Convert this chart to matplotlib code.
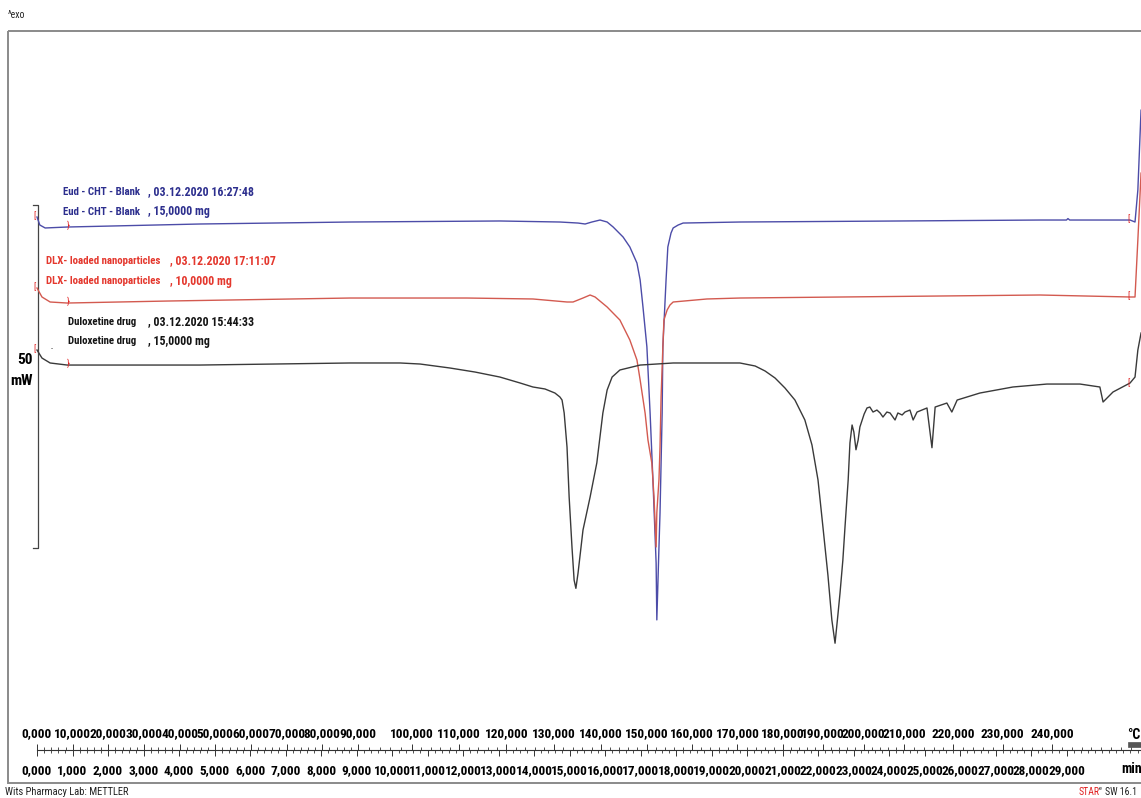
import numpy as np
import matplotlib
matplotlib.use("Agg")
import matplotlib.pyplot as plt
from matplotlib.patches import Rectangle
from matplotlib.ticker import FixedLocator, MultipleLocator, FuncFormatter

NARROW = ["Liberation Sans Narrow", "Roboto Condensed", "DejaVu Sans"]
plt.rcParams["font.family"] = NARROW

BLUE_TXT, BLUE = "#2D2F8E", "#4C4CA8"
RED_TXT, RED = "#E4382E", "#D35A50"
BLACK_TXT, BLACK = "#141414", "#3A3A3A"
FRAME = "#8A8A8A"

# --- runs ---------------------------------------------------------------------
samples = ["Eud - CHT - Blank", "DLX- loaded nanoparticles", "Duloxetine drug"]
run_stamps = ["03.12.2020 16:27:48", "03.12.2020 17:11:07", "03.12.2020 15:44:33"]
masses_mg = [15.0, 10.0, 15.0]
offsets_mw = [47.52, 36.15, 26.82]          # curve stacking in the plot

# heat flow (mW, relative to own baseline) against time (min)
blank_t = [0.00, 0.08, 0.23, 0.85, 4.59, 8.82, 13.04, 14.73, 15.24, 15.44, 15.63, 15.86,
           16.06, 16.23, 16.51, 16.70, 16.90, 16.99, 17.07, 17.18, 17.27, 17.35, 17.44,
           17.46, 17.52, 17.55, 17.61, 17.63, 17.72, 17.77, 17.86, 17.92, 18.06, 18.20,
           19.80, 24.31, 28.25, 29.00, 29.04, 29.09, 30.79, 30.93, 31.01, 31.10]
blank_mw = [0.73, -0.44, -0.87, -0.73, -0.29, 0.00, 0.15, 0.00, -0.15, -0.29, 0.00, 0.29,
            0.00, -0.73, -2.19, -3.64, -5.98, -8.45, -12.4, -18.2, -27.8, -37.6, -49.7,
            -58.0, -47.4, -42.4, -27.8, -18.2, -8.45, -3.64, -1.60, -0.87, -0.44, -0.15,
            0.00, 0.15, 0.29, 0.29, 0.50, 0.29, 0.29, 0.00, 4.66, 16.3]

nano_t = [0.00, 0.14, 0.37, 0.85, 3.66, 8.82, 12.11, 13.97, 14.93, 15.10, 15.38, 15.58,
          15.72, 16.06, 16.42, 16.70, 16.90, 16.99, 17.13, 17.21, 17.32, 17.38, 17.44,
          17.46, 17.52, 17.55, 17.58, 17.63, 17.66, 17.75, 17.83, 17.92, 18.87, 19.80,
          28.25, 30.79, 30.93, 31.01, 31.10]
nano_mw = [1.75, 0.44, -0.29, -0.44, -0.15, 0.29, 0.29, 0.15, -0.29, -0.29, 0.29, 0.73,
           0.44, -1.02, -2.92, -5.83, -8.75, -11.66, -16.5, -20.4, -23.8, -28.7, -36.0,
           -31.0, -26.2, -21.4, -14.1, -6.85, -2.92, -1.46, -0.73, -0.29, 0.15, 0.29,
           0.73, 0.44, 0.44, 8.75, 18.5]

drug_t = [0.00, 0.14, 0.37, 0.85, 4.59, 8.82, 10.23, 10.79, 11.63, 12.34, 13.04, 13.61,
          13.97, 14.31, 14.59, 14.73, 14.79, 14.85, 14.93, 14.99, 15.07, 15.13, 15.18,
          15.24, 15.38, 15.58, 15.77, 15.94, 16.06, 16.20, 16.42, 16.99, 17.92, 19.80,
          20.23, 20.51, 20.79, 21.07, 21.35, 21.63, 21.83, 22.00, 22.14, 22.28, 22.39,
          22.48, 22.56, 22.62, 22.70, 22.76, 22.85, 22.90, 22.96, 23.01, 23.07, 23.13,
          23.18, 23.30, 23.38, 23.46, 23.55, 23.66, 23.75, 23.83, 23.94, 24.03, 24.17,
          24.25, 24.37, 24.45, 24.59, 24.68, 24.79, 25.07, 25.21, 25.30, 25.63, 25.77,
          25.92, 26.56, 27.49, 28.45, 29.38, 29.94, 30.03, 30.31, 30.79, 30.93, 31.01,
          31.10]
drug_mw = [2.04, 0.87, 0.15, -0.15, -0.15, 0.15, 0.15, 0.00, -0.58, -1.17, -1.90, -2.77,
           -3.35, -3.64, -4.23, -4.81, -5.25, -7.14, -12.1, -19.4, -26.7, -31.5, -32.7,
           -30.5, -24.2, -19.4, -14.4, -7.14, -3.79, -1.90, -0.87, -0.15, 0.15, 0.15,
           -0.29, -1.02, -2.04, -3.50, -5.25, -8.16, -11.8, -16.9, -23.8, -30.8, -37.3,
           -40.7, -36.6, -33.4, -28.6, -23.8, -16.9, -11.5, -8.89, -9.91, -12.5, -11.1,
           -9.18, -7.29, -6.41, -6.27, -7.00, -6.71, -7.14, -7.73, -7.00, -7.14, -8.16,
           -7.14, -7.43, -7.00, -6.71, -8.16, -7.00, -6.41, -12.2, -6.27, -5.69, -7.00,
           -5.25, -4.23, -3.35, -2.92, -2.92, -3.35, -5.54, -4.08, -2.77, -1.90, 2.04,
           4.52]

# temperature program for the upper ruler
prog_min = [0.0, 9.04, 10.56, 15.89, 21.01, 24.42, 28.59]
prog_c = [0.0, 90.0, 100.0, 140.0, 180.0, 210.0, 240.0]

scale_bar_mw = 50

# --- page geometry (pixels) ---------------------------------------------------
W, H = 1141, 798
X0, PX_MIN = 37, 35.5          # t = 0 column, pixels per minute
Y0, PX_MW = 548, 6.86          # 0 mW row, pixels per mW
T_END = (W - X0) / PX_MIN

fig = plt.figure(figsize=(W / 100, H / 100), dpi=100)
ax = fig.add_axes([0, 0, 1, 1])
ax.set_xlim(-X0 / PX_MIN, T_END)
ax.set_ylim((Y0 - H) / PX_MW, Y0 / PX_MW)
ax.axis("off")

# page overlay in pixel units for frame and captions
pg = fig.add_axes([0, 0, 1, 1], facecolor="none")
pg.set_xlim(0, W); pg.set_ylim(H, 0); pg.axis("off")
pg.add_patch(Rectangle((8, 31), W, 752, fill=False, ec=FRAME, lw=1.4))
pg.text(8, 15, "^exo", fontsize=7, color="#222", va="center", ha="left")

# --- curves -------------------------------------------------------------------
curves = [(blank_t, blank_mw, BLUE, BLUE_TXT), (nano_t, nano_mw, RED, RED_TXT),
          (drug_t, drug_mw, BLACK, BLACK_TXT)]
for (t, mw, c, _), off in zip(curves, offsets_mw):
    y = np.asarray(mw) + off
    ax.plot(t, y, color=c, lw=1.0, zorder=3, solid_joinstyle="round")
    # evaluation-range brackets at start and end of each run
    ax.text(t[0] - 0.07, y[0] + 0.2, "[", color="#E02020", fontsize=6.5, ha="center", va="center")
    ax.text(0.87, np.interp(0.87, t, y) + 0.2, "}", color="#E02020", fontsize=6.5, ha="center", va="center")
    ax.text(30.76, np.interp(30.76, t, y) + 0.2, "[", color="#E02020", fontsize=6.5, ha="center", va="center")

# 50 mW scale bar
xb, xt = 0.03, -0.12
ax.plot([xt, xb, xb, xt], [scale_bar_mw, scale_bar_mw, 0, 0], color="#444", lw=0.9)
pg.text(33, 360, f"{scale_bar_mw}", fontsize=11, fontweight="bold", ha="right", va="center")
pg.text(33, 381, "mW", fontsize=11, fontweight="bold", ha="right", va="center")
pg.text(52, 349, "-", fontsize=6, ha="center", va="center", color="#333")

# sample captions
cap_rows = [(63, 148, 192, 212), (46, 170, 261, 281), (68, 148, 322, 341)]
for (xn, xd, y1, y2), name, stamp, m, (_, _, _, tc) in zip(cap_rows, samples, run_stamps, masses_mg, curves):
    mass = f"{m:.4f}".replace(".", ",")
    for yy, tail in [(y1, f", {stamp}"), (y2, f", {mass} mg")]:
        pg.text(xn, yy, name, color=tc, fontsize=7.8, fontweight="bold", ha="left", va="center")
        pg.text(xd, yy, tail, color=tc, fontsize=8.6, fontweight="bold", ha="left", va="center")

# --- dual ruler: time below, sample temperature above -------------------------
ry = 750
rax = fig.add_axes([X0 / W, (H - ry) / H, 1 - X0 / W, 1e-4])
rax.set_xlim(0, T_END)
rax.set_facecolor("none")
for s in ["left", "right", "top"]:
    rax.spines[s].set_visible(False)
rax.spines["bottom"].set_color("#333")
rax.spines["bottom"].set_linewidth(0.8)
rax.yaxis.set_visible(False)
comma3 = FuncFormatter(lambda v, _: f"{v:.3f}".replace(".", ","))
rax.xaxis.set_major_locator(FixedLocator(np.arange(0, 30)))
rax.xaxis.set_minor_locator(MultipleLocator(0.2))
rax.xaxis.set_major_formatter(comma3)
rax.tick_params(axis="x", which="major", direction="out", length=4, width=0.7, color="#333",
                labelsize=9.5, pad=6)
rax.tick_params(axis="x", which="minor", direction="out", length=2.5, width=0.6, color="#333")
for lab in rax.get_xticklabels():
    lab.set_fontweight("bold")


def t2T(t):
    t = np.asarray(t, float)
    s = (prog_c[-1] - prog_c[-2]) / (prog_min[-1] - prog_min[-2])
    return np.where(t > prog_min[-1], prog_c[-1] + (t - prog_min[-1]) * s, np.interp(t, prog_min, prog_c))


def T2t(T):
    T = np.asarray(T, float)
    s = (prog_min[-1] - prog_min[-2]) / (prog_c[-1] - prog_c[-2])
    return np.where(T > prog_c[-1], prog_min[-1] + (T - prog_c[-1]) * s, np.interp(T, prog_c, prog_min))


sec = rax.secondary_xaxis("top", functions=(t2T, T2t))
sec.spines["top"].set_visible(False)
sec.xaxis.set_major_locator(FixedLocator(np.arange(0, 250, 10)))
sec.xaxis.set_minor_locator(MultipleLocator(2))
sec.xaxis.set_major_formatter(comma3)
sec.tick_params(axis="x", which="major", direction="out", length=4, width=0.7, color="#333",
                labelsize=9.5, pad=3)
sec.tick_params(axis="x", which="minor", direction="out", length=2.5, width=0.6, color="#333")
for lab in sec.get_xticklabels():
    lab.set_fontweight("bold")

pg.text(1127, 735, "°C", fontsize=10, fontweight="bold", ha="left", va="center")
pg.text(1121, 769, "min", fontsize=10, fontweight="bold", ha="left", va="center")
pg.add_patch(Rectangle((1128, 742), 13, 5, fc="#555", ec="#555", lw=0.5))

# footer
pg.text(5, 792, "Wits Pharmacy Lab: METTLER", fontsize=7.6, color="#222", ha="left", va="center")
pg.text(1079, 792, "STAR", fontsize=7, color="#E02020", ha="left", va="center")
pg.text(1099, 788, "e", fontsize=4.5, color="#222", ha="left", va="center")
pg.text(1105, 792, "SW 16.1", fontsize=7, color="#222", ha="left", va="center")

fig.savefig("out.png", dpi=100)
